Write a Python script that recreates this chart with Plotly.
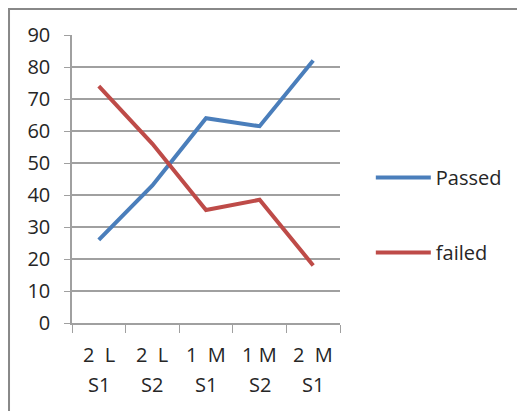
import plotly.graph_objects as go

categories = ["2 L S1", "2 L S2", "1 M S1", "1M S2", "2 M S1"]
label_top = ["2\u00a0\u00a0L", "2\u00a0\u00a0L", "1\u00a0\u00a0M", "1\u00a0M", "2\u00a0\u00a0M"]
label_bottom = ["S1", "S2", "S1", "S2", "S1"]
passed = [26, 43, 64, 61.5, 82]
failed = [74, 56, 35.3, 38.5, 18]

FONT = "Open Sans"
TXT = "#262626"
GRID = "#a0a0a0"
FS = 20

fig = go.Figure()
fig.add_trace(go.Scatter(x=categories, y=passed, mode="lines", name="Passed",
                         line=dict(color="#4a7ebb", width=4), legendgroup="a"))
fig.add_trace(go.Scatter(x=categories, y=failed, mode="lines", name="failed",
                         line=dict(color="#be4b48", width=4), legendgroup="b"))

for c, t, b in zip(categories, label_top, label_bottom):
    fig.add_annotation(x=c, xref="x", y=-0.111, yref="paper", text=t, showarrow=False,
                       yanchor="middle", font=dict(family=FONT, size=FS, color=TXT))
    fig.add_annotation(x=c, xref="x", y=-0.215, yref="paper", text=b, showarrow=False,
                       yanchor="middle", font=dict(family=FONT, size=FS, color=TXT))

fig.add_shape(type="rect", xref="paper", yref="paper", x0=-0.235, x1=2, y0=-0.6, y1=1.090,
              line=dict(color="#888888", width=2), fillcolor="rgba(0,0,0,0)", layer="below")

fig.update_layout(
    width=517, height=403,
    margin=dict(l=64, r=185, t=27, b=88),
    paper_bgcolor="white", plot_bgcolor="white",
    font=dict(family=FONT, size=FS, color=TXT),
    showlegend=True,
    legend=dict(x=1.115, y=0.375, xanchor="left", yanchor="middle",
                tracegroupgap=46, traceorder="grouped", itemwidth=55,
                font=dict(family=FONT, size=FS, color=TXT), bgcolor="rgba(0,0,0,0)"),
    xaxis=dict(type="category", range=[-0.5, 4.5], showgrid=False, showticklabels=False,
               ticks="outside", ticklen=8, tickcolor=GRID, tickson="boundaries",
               showline=True, linecolor=GRID, linewidth=1.5, zeroline=False),
    yaxis=dict(range=[0, 90], dtick=10, showgrid=True, gridcolor=GRID, gridwidth=1.5,
               ticks="outside", ticklen=6, tickcolor=GRID, showline=True, linecolor=GRID,
               linewidth=1.5, zeroline=False, ticklabelstandoff=10,
               tickfont=dict(family=FONT, size=FS, color=TXT)),
)

fig.write_html("out.html")
